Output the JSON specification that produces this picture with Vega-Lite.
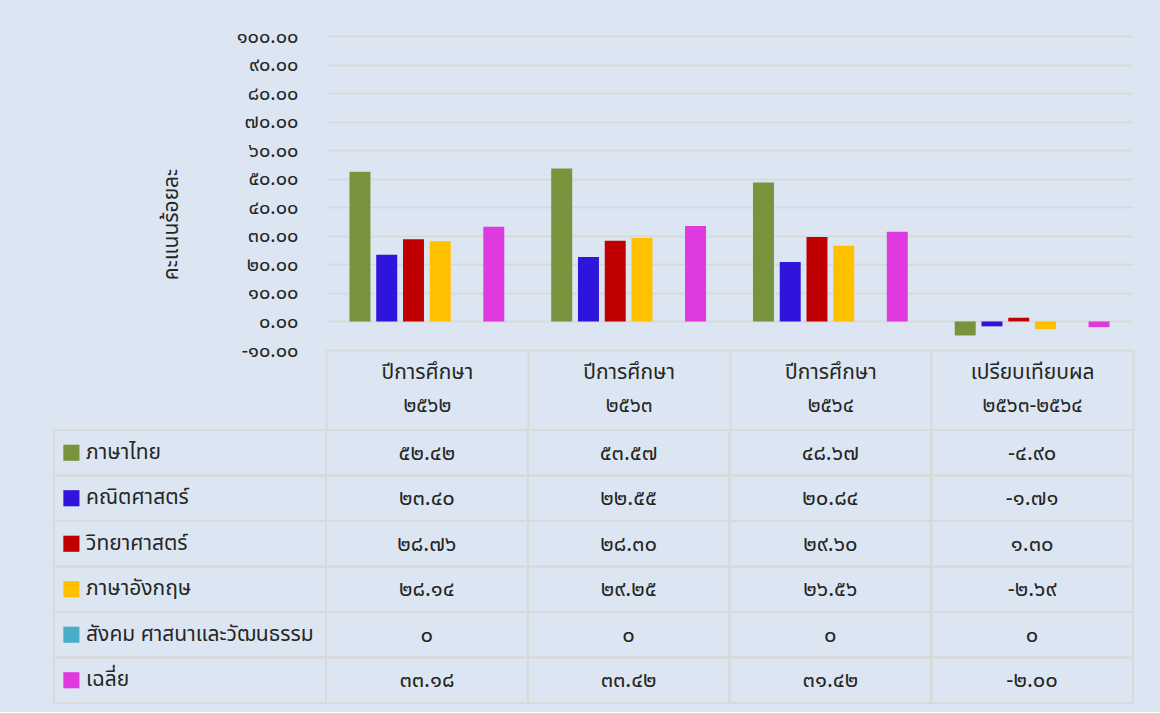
{
  "$schema": "https://vega.github.io/schema/vega-lite/v6.json",
  "background": "#dce6f2",
  "padding": {"left": 53, "top": 26, "right": 26, "bottom": 8},
  "config": {
    "view": {"stroke": null},
    "font": "Noto Sans Thai, Noto Sans, sans-serif",
    "text": {"color": "#262626"}
  },
  "datasets": {
    "scores": [
      {"period": "ปีการศึกษา|๒๕๖๒", "subject": "ภาษาไทย", "score": 52.42, "label": "๕๒.๔๒"},
      {"period": "ปีการศึกษา|๒๕๖๒", "subject": "คณิตศาสตร์", "score": 23.40, "label": "๒๓.๔๐"},
      {"period": "ปีการศึกษา|๒๕๖๒", "subject": "วิทยาศาสตร์", "score": 28.76, "label": "๒๘.๗๖"},
      {"period": "ปีการศึกษา|๒๕๖๒", "subject": "ภาษาอังกฤษ", "score": 28.14, "label": "๒๘.๑๔"},
      {"period": "ปีการศึกษา|๒๕๖๒", "subject": "สังคม ศาสนาและวัฒนธรรม", "score": 0, "label": "๐"},
      {"period": "ปีการศึกษา|๒๕๖๒", "subject": "เฉลี่ย", "score": 33.18, "label": "๓๓.๑๘"},
      {"period": "ปีการศึกษา|๒๕๖๓", "subject": "ภาษาไทย", "score": 53.57, "label": "๕๓.๕๗"},
      {"period": "ปีการศึกษา|๒๕๖๓", "subject": "คณิตศาสตร์", "score": 22.55, "label": "๒๒.๕๕"},
      {"period": "ปีการศึกษา|๒๕๖๓", "subject": "วิทยาศาสตร์", "score": 28.30, "label": "๒๘.๓๐"},
      {"period": "ปีการศึกษา|๒๕๖๓", "subject": "ภาษาอังกฤษ", "score": 29.25, "label": "๒๙.๒๕"},
      {"period": "ปีการศึกษา|๒๕๖๓", "subject": "สังคม ศาสนาและวัฒนธรรม", "score": 0, "label": "๐"},
      {"period": "ปีการศึกษา|๒๕๖๓", "subject": "เฉลี่ย", "score": 33.42, "label": "๓๓.๔๒"},
      {"period": "ปีการศึกษา|๒๕๖๔", "subject": "ภาษาไทย", "score": 48.67, "label": "๔๘.๖๗"},
      {"period": "ปีการศึกษา|๒๕๖๔", "subject": "คณิตศาสตร์", "score": 20.84, "label": "๒๐.๘๔"},
      {"period": "ปีการศึกษา|๒๕๖๔", "subject": "วิทยาศาสตร์", "score": 29.60, "label": "๒๙.๖๐"},
      {"period": "ปีการศึกษา|๒๕๖๔", "subject": "ภาษาอังกฤษ", "score": 26.56, "label": "๒๖.๕๖"},
      {"period": "ปีการศึกษา|๒๕๖๔", "subject": "สังคม ศาสนาและวัฒนธรรม", "score": 0, "label": "๐"},
      {"period": "ปีการศึกษา|๒๕๖๔", "subject": "เฉลี่ย", "score": 31.42, "label": "๓๑.๔๒"},
      {"period": "เปรียบเทียบผล|๒๕๖๓-๒๕๖๔", "subject": "ภาษาไทย", "score": -4.90, "label": "-๔.๙๐"},
      {"period": "เปรียบเทียบผล|๒๕๖๓-๒๕๖๔", "subject": "คณิตศาสตร์", "score": -1.71, "label": "-๑.๗๑"},
      {"period": "เปรียบเทียบผล|๒๕๖๓-๒๕๖๔", "subject": "วิทยาศาสตร์", "score": 1.30, "label": "๑.๓๐"},
      {"period": "เปรียบเทียบผล|๒๕๖๓-๒๕๖๔", "subject": "ภาษาอังกฤษ", "score": -2.69, "label": "-๒.๖๙"},
      {"period": "เปรียบเทียบผล|๒๕๖๓-๒๕๖๔", "subject": "สังคม ศาสนาและวัฒนธรรม", "score": 0, "label": "๐"},
      {"period": "เปรียบเทียบผล|๒๕๖๓-๒๕๖๔", "subject": "เฉลี่ย", "score": -2.00, "label": "-๒.๐๐"}
    ]
  },
  "columns": 2,
  "align": "each",
  "bounds": "flush",
  "spacing": {"row": 80, "column": 0},
  "concat": [
    {
      "width": 272, "height": 314,
      "data": {"values": [{}]},
      "mark": {"type": "text", "text": ""}
    },
    {
      "width": 807, "height": 314,
      "data": {"name": "scores"},
      "mark": {"type": "bar"},
      "encoding": {
        "x": {
          "field": "period", "type": "nominal", "sort": null,
          "scale": {"paddingInner": 0, "paddingOuter": 0},
          "axis": {
            "title": null, "domain": false, "labelAngle": 0,
            "tickBand": "extent", "tickSize": 80, "tickColor": "#d9d9d9", "tickWidth": 2,
            "labelPadding": -69, "labelFontSize": 21, "labelLineHeight": 33, "labelColor": "#262626",
            "labelExpr": "split(datum.label, '|')"
          }
        },
        "xOffset": {
          "field": "subject", "type": "nominal", "sort": null,
          "scale": {"paddingInner": 0.216, "paddingOuter": 0.877}
        },
        "y": {
          "field": "score", "type": "quantitative",
          "scale": {"domain": [-10, 100], "nice": false, "zero": false},
          "axis": {
            "title": "คะแนนร้อยละ", "titleFontSize": 21, "titleFontWeight": "normal", "titleColor": "#262626",
            "titleX": -155, "titleY": 188, "titleAlign": "center", "titleBaseline": "middle",
            "values": [-10, 0, 10, 20, 30, 40, 50, 60, 70, 80, 90, 100],
            "domain": false, "ticks": false, "labelPadding": 28, "labelFontSize": 20, "labelColor": "#262626",
            "gridColor": "#d9d9d9", "gridWidth": 2,
            "labelExpr": "replace(replace(replace(replace(replace(replace(replace(replace(replace(replace(format(datum.value, '.2f'), regexp('0','g'), '๐'), regexp('1','g'), '๑'), regexp('2','g'), '๒'), regexp('3','g'), '๓'), regexp('4','g'), '๔'), regexp('5','g'), '๕'), regexp('6','g'), '๖'), regexp('7','g'), '๗'), regexp('8','g'), '๘'), regexp('9','g'), '๙')"
          }
        },
        "color": {
          "field": "subject", "type": "nominal", "sort": null, "legend": null,
          "scale": {
            "domain": ["ภาษาไทย", "คณิตศาสตร์", "วิทยาศาสตร์", "ภาษาอังกฤษ", "สังคม ศาสนาและวัฒนธรรม", "เฉลี่ย"],
            "range": ["#77933c", "#2f14dc", "#c00000", "#ffc000", "#4bacc6", "#df3ae0"]
          }
        }
      }
    },
    {
      "width": 272, "height": 273,
      "data": {"name": "scores"},
      "transform": [{"filter": "datum.period == 'ปีการศึกษา|๒๕๖๒'"}],
      "encoding": {
        "y": {"field": "subject", "type": "nominal", "sort": null, "axis": null,
              "scale": {"paddingInner": 0, "paddingOuter": 0}}
      },
      "layer": [
        {
          "mark": {"type": "rect", "fill": null, "stroke": "#d9d9d9", "strokeWidth": 2},
          "encoding": {
            "x": {"datum": 0, "type": "quantitative", "scale": {"domain": [0, 1]}, "axis": null},
            "x2": {"datum": 1}
          }
        },
        {
          "mark": {"type": "square", "size": 260, "opacity": 1, "filled": true},
          "encoding": {
            "x": {"datum": 0.064, "type": "quantitative", "scale": {"domain": [0, 1]}, "axis": null},
            "color": {
              "field": "subject", "type": "nominal", "sort": null, "legend": null,
              "scale": {
                "domain": ["ภาษาไทย", "คณิตศาสตร์", "วิทยาศาสตร์", "ภาษาอังกฤษ", "สังคม ศาสนาและวัฒนธรรม", "เฉลี่ย"],
                "range": ["#77933c", "#2f14dc", "#c00000", "#ffc000", "#4bacc6", "#df3ae0"]
              }
            }
          }
        },
        {
          "mark": {"type": "text", "align": "left", "baseline": "middle", "fontSize": 21, "color": "#262626"},
          "encoding": {
            "x": {"datum": 0.118, "type": "quantitative", "scale": {"domain": [0, 1]}, "axis": null},
            "text": {"field": "subject"}
          }
        }
      ]
    },
    {
      "width": 807, "height": 273,
      "data": {"name": "scores"},
      "encoding": {
        "x": {"field": "period", "type": "nominal", "sort": null, "axis": null,
              "scale": {"paddingInner": 0, "paddingOuter": 0}},
        "y": {"field": "subject", "type": "nominal", "sort": null, "axis": null,
              "scale": {"paddingInner": 0, "paddingOuter": 0}}
      },
      "layer": [
        {"mark": {"type": "rect", "fill": null, "stroke": "#d9d9d9", "strokeWidth": 2}},
        {
          "mark": {"type": "text", "align": "center", "baseline": "middle", "fontSize": 22, "color": "#262626"},
          "encoding": {"text": {"field": "label"}}
        }
      ]
    }
  ]
}
